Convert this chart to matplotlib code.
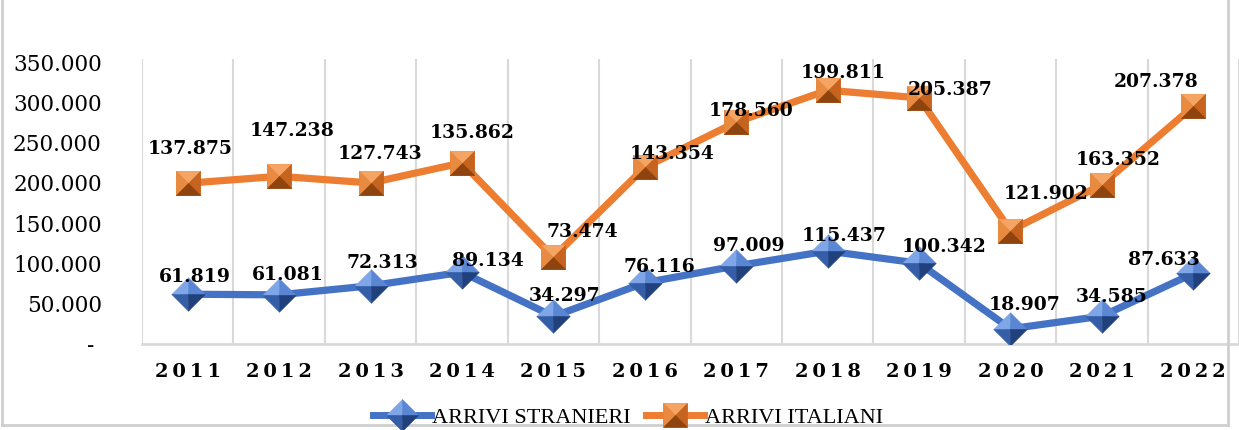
import numpy as np
import matplotlib
matplotlib.use("Agg")
import matplotlib.pyplot as plt
from matplotlib.path import Path
from matplotlib.lines import Line2D

# ---- data ------------------------------------------------------------------
years = [2011, 2012, 2013, 2014, 2015, 2016, 2017, 2018, 2019, 2020, 2021, 2022]
stranieri = [61819, 61081, 72313, 89134, 34297, 76116, 97009, 115437, 100342, 18907, 34585, 87633]
italiani = [137875, 147238, 127743, 135862, 73474, 143354, 178560, 199811, 205387, 121902, 163352, 207378]
y_ticks = [0, 50000, 100000, 150000, 200000, 250000, 300000, 350000]

# label offsets (pixels) from each marker, as placed in the original
off_str = [(7, 17), (9, 20), (12, 23), (26, 11), (11, 20), (15, 16),
           (13, 20), (16, 15), (25, 16), (14, 24), (10, 19), (-29, 13)]
off_ita = [(2, 34), (13, 45), (10, 29), (10, 30), (29, 25), (27, 13),
           (15, 11), (16, 17), (31, 8), (36, 37), (16, 25), (-37, 24)]

BLUE = "#4472C4"
ORANGE = "#ED7D31"
GRID = "#d9d9d9"


def fmt(v):
    return f"{v:,.0f}".replace(",", ".")


def tri(pts):
    return Path(pts + [pts[0]], [Path.MOVETO, Path.LINETO, Path.LINETO, Path.CLOSEPOLY])


def quad(pts):
    return Path(pts + [pts[0]], [Path.MOVETO] + [Path.LINETO] * 3 + [Path.CLOSEPOLY])


# bevelled markers: one polygon per face
diamond = [
    (tri([(0, 0), (-1, 0), (0, 1)]), "#7fa6e6"),
    (tri([(0, 0), (0, 1), (1, 0)]), "#5a86d4"),
    (tri([(0, 0), (0, -1), (-1, 0)]), "#345ea8"),
    (tri([(0, 0), (1, 0), (0, -1)]), "#20417c"),
]
square = [
    (quad([(-1, 1), (1, 1), (1, -1), (-1, -1)]), "#e07a2c"),
    (tri([(0, 0), (-1, 1), (1, 1)]), "#f6a463"),
    (tri([(0, 0), (-1, -1), (-1, 1)]), "#e88a3f"),
    (tri([(0, 0), (1, 1), (1, -1)]), "#c6631e"),
    (tri([(0, 0), (1, -1), (-1, -1)]), "#8f430e"),
]

x = np.arange(len(years))
s = np.array(stranieri)
it_stack = s + np.array(italiani)   # stacked line chart

fig = plt.figure(figsize=(12.39, 4.30), dpi=100)
ax = fig.add_axes([142 / 1239, 1 - 344 / 430, 1 - 142 / 1239, 285 / 430])

ax.plot(x, s, color=BLUE, lw=5.2, zorder=2, solid_joinstyle="round")
ax.plot(x, it_stack, color=ORANGE, lw=5.2, zorder=2, solid_joinstyle="round")
for p, c in diamond:
    ax.plot(x, s, ls="none", marker=p, ms=24, color=c, mec=c, mew=0.4, zorder=3)
for p, c in square:
    ax.plot(x, it_stack, ls="none", marker=p, ms=17.5, color=c, mec=c, mew=0.4, zorder=3)

lab_kw = dict(textcoords="offset pixels", ha="center", va="center",
              fontsize=13.5, fontweight="bold", family="DejaVu Serif", zorder=4)
for i in range(len(years)):
    ax.annotate(fmt(stranieri[i]), (x[i], s[i]), xytext=off_str[i], **lab_kw)
    ax.annotate(fmt(italiani[i]), (x[i], it_stack[i]), xytext=off_ita[i], **lab_kw)

ax.set_xlim(-0.5, 11.41)
ax.set_ylim(0, 354000)
ax.set_yticks(y_ticks)
ax.set_yticklabels(["- "] + [fmt(v) for v in y_ticks[1:]],
                   family="DejaVu Serif", fontsize=15.5)
ax.set_xticks(x)
ax.set_xticklabels(["\u2009".join(str(y)) for y in years],
                   family="DejaVu Serif", fontsize=14, fontweight="bold")
ax.set_xticks(np.arange(-0.5, 12, 1), minor=True)
ax.tick_params(axis="both", which="both", length=0)
ax.tick_params(axis="y", pad=29)
ax.tick_params(axis="x", pad=14)
ax.grid(axis="x", which="minor", color=GRID, lw=1.5)
ax.grid(axis="x", which="major", visible=False)
for side in ["top", "right", "left"]:
    ax.spines[side].set_visible(False)
ax.spines["bottom"].set_color(GRID)
ax.spines["bottom"].set_linewidth(2)

# legend with bevelled markers
h_str = tuple([Line2D([], [], color=BLUE, lw=5)] +
              [Line2D([], [], ls="none", marker=p, ms=23, color=c, mec=c, mew=0.4) for p, c in diamond])
h_ita = tuple([Line2D([], [], color=ORANGE, lw=5)] +
              [Line2D([], [], ls="none", marker=p, ms=17, color=c, mec=c, mew=0.4) for p, c in square])
fig.legend([h_str, h_ita], ["ARRIVI STRANIERI", "ARRIVI ITALIANI"],
           loc="center", bbox_to_anchor=(0.507, 0.028), ncol=2, frameon=False,
           numpoints=1, handlelength=2.6, handletextpad=0.05, columnspacing=0.7,
           prop=dict(family="Liberation Serif", size=16))

# chart border
bc = "#cfcfcf"
fig.add_artist(Line2D([0.002, 0.002], [0.012, 1], transform=fig.transFigure, color=bc, lw=2))
fig.add_artist(Line2D([0.002, 0.991], [0.012, 0.012], transform=fig.transFigure, color=bc, lw=2))
fig.add_artist(Line2D([0.991, 0.991], [0.012, 1], transform=fig.transFigure, color=bc, lw=2))

fig.savefig("out.png", dpi=100)
